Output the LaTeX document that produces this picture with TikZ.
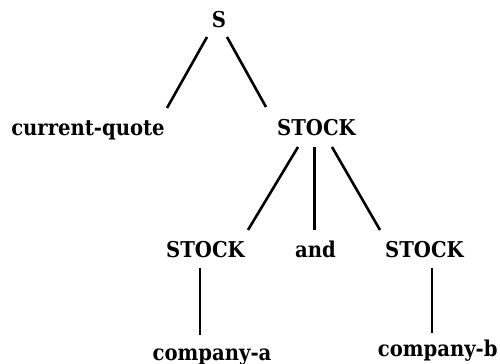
\documentclass[tikz,border=0pt]{standalone}
\usepackage{fontspec}
\setmainfont{DejaVu Serif}[FakeStretch=0.9]
\begin{document}
\begin{tikzpicture}[x=0.5pt,y=-0.5pt,
  lbl/.style={inner sep=0pt,anchor=base,font=\bfseries\fontsize{10.9}{12}\selectfont},
  edge/.style={line width=1.3pt}]
\useasboundingbox (0,0) rectangle (500,364);
\node[lbl] (S) at (219,27) {S};
\node[lbl] (cq) at (88,135) {current-quote};
\node[lbl] (st) at (316.5,135) {STOCK};
\node[lbl] (sa) at (205.5,258) {STOCK};
\node[lbl] (and) at (315.5,258) {and};
\node[lbl] (sb) at (424.5,258) {STOCK};
\node[lbl] (ca) at (212,361) {company-a};
\node[lbl,anchor=base east] (cb) at (498,357) {company-b};
\coordinate (S-l) at (207,37);
\coordinate (S-r) at (227,37);
\coordinate (cq-t) at (167,108);
\coordinate (st-t) at (266,107);
\coordinate (st-l) at (298,147);
\coordinate (st-m) at (314.5,147);
\coordinate (st-r) at (332,147);
\coordinate (sa-t) at (248,230);
\coordinate (and-t) at (314.5,230);
\coordinate (sb-t) at (380,230);
\coordinate (sa-b) at (200,268);
\coordinate (ca-t) at (200,335);
\coordinate (sb-b) at (432,268);
\coordinate (cb-t) at (432,333);
\draw[edge] (S-l) -- (cq-t);
\draw[edge] (S-r) -- (st-t);
\draw[edge] (st-l) -- (sa-t);
\draw[edge] (st-m) -- (and-t);
\draw[edge] (st-r) -- (sb-t);
\draw[edge] (sa-b) -- (ca-t);
\draw[edge] (sb-b) -- (cb-t);
\end{tikzpicture}
\end{document}
